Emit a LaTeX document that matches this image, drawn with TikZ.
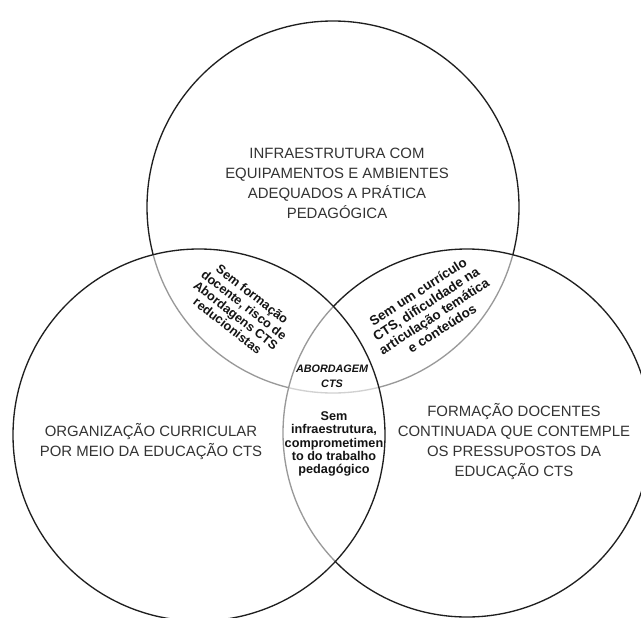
\documentclass[tikz,border=0pt]{standalone}
\usepackage{fontspec}
\setmainfont{Liberation Sans}
\tikzset{
  ring/.style={draw=black!88, line width=1pt, fill=white, fill opacity=0.55},
  area/.style={align=center, text=black!80, font=\fontsize{11.2}{15}\selectfont},
  lens/.style={align=center, text=black!92, font=\bfseries\fontsize{9.5}{10}\selectfont},
}
\begin{document}
\begin{tikzpicture}[x=0.75pt,y=-0.75pt]
\useasboundingbox (0,0) rectangle (641,617);
% the three circles, drawn so that later ones grey the earlier outlines
\coordinate (T) at (333,207);
\coordinate (L) at (199,435);
\coordinate (R) at (467,433);
\draw[ring] (T) circle[radius=186];
\draw[ring] (R) circle[radius=184];
\draw[ring] (L) circle[radius=186];
% labels
\node[area] (infra) at (337,183) {INFRAESTRUTURA COM\\EQUIPAMENTOS E AMBIENTES\\ADEQUADOS A PRÁTICA\\PEDAGÓGICA};
\node[area] (organiz) at (151,442) {ORGANIZAÇÃO CURRICULAR\\POR MEIO DA EDUCAÇÃO CTS};
\node[area] (formdoc) at (514,442) {FORMAÇÃO DOCENTES\\CONTINUADA QUE CONTEMPLE\\OS PRESSUPOSTOS DA\\EDUCAÇÃO CTS};
\node[lens, rotate=-38] (semform) at (240,310) {Sem formação\\docente, risco de\\Abordagens CTS\\reducionistas};
\node[lens, rotate=33, font=\bfseries\fontsize{10}{11}\selectfont] (semcurr) at (430,310) {Sem um currículo\\CTS, dificuldade na\\articulação temática\\e conteúdos};
\node[lens] (seminfra) at (334,444) {Sem\\infraestrutura,\\comprometimen\\to do trabalho\\pedagógico};
\node[lens, font=\bfseries\itshape\fontsize{8.1}{11.3}\selectfont] (abord) at (332,376) {ABORDAGEM\\CTS};
\end{tikzpicture}
\end{document}
